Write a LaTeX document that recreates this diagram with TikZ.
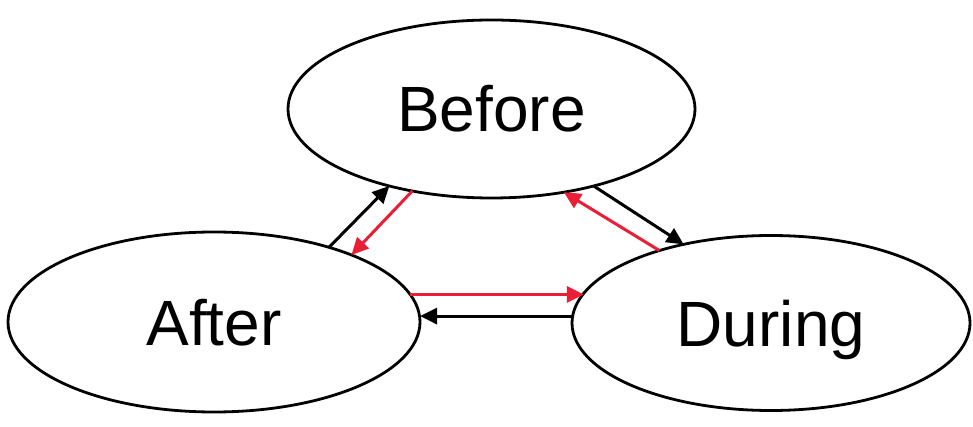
\documentclass[tikz,border=0pt]{standalone}
\usepackage{fontspec}
\setmainfont{Liberation Sans}
\usetikzlibrary{shapes.geometric,arrows.meta}
\definecolor{arrowred}{RGB}{235,30,55}
\begin{document}
\begin{tikzpicture}[x=1pt,y=1pt,
  state/.style={ellipse,draw=black,line width=2.8pt,inner sep=0pt,outer sep=0pt,
    font=\fontsize{64}{70}\selectfont,text height=46pt,text depth=0pt},
  blackarrow/.style={draw=black,line width=3pt,-{Triangle[length=17pt,width=16pt]}},
  redarrow/.style={draw=arrowred,line width=3pt,-{Triangle[length=17pt,width=16pt]}}]
\useasboundingbox[fill=white] (0,0) rectangle (973,-427);
\node[state,minimum width=407pt,minimum height=178pt] (before) at (491.5,-109) {Before};
\node[state,minimum width=412pt,minimum height=180pt] (after) at (214,-322) {After};
\node[state,minimum width=398pt,minimum height=175pt] (during) at (771,-323) {During};
% After <-> Before
\draw[blackarrow] (after.33.2) -- (before.217.2);
\draw[redarrow] (before.226.5) -- (after.26.1);
% Before <-> During
\draw[blackarrow] (before.-37.9) -- (during.138.5);
\draw[redarrow] (during.147.8) -- (before.-49.9);
% After <-> During
\draw[redarrow] (after.8.2) -- (after.8.2 -| during.171.2);
\draw[blackarrow] (during.178.8) -- (during.178.8 -| after.0.8);
\end{tikzpicture}
\end{document}
